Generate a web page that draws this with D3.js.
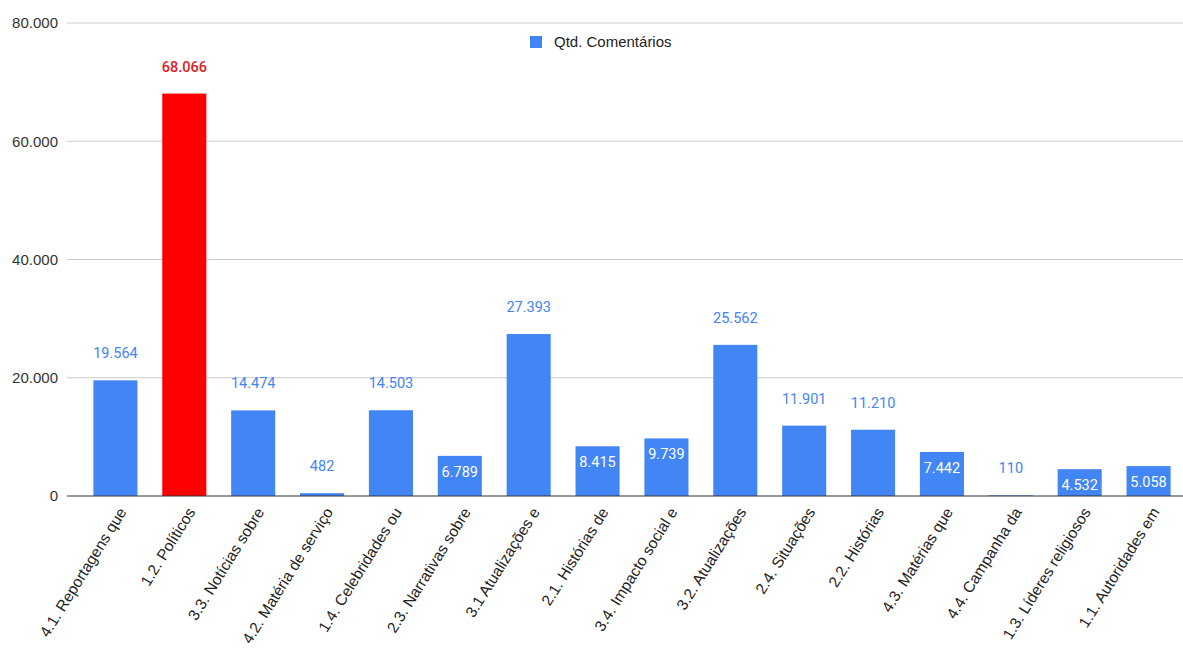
<!DOCTYPE html>
<html>
<head>
<meta charset="utf-8">
<script src="https://cdn.jsdelivr.net/npm/d3@7"></script>
<style>
  body { margin: 0; background: #fff; }
  svg { display: block; }
</style>
</head>
<body>
<div id="chart"></div>
<script>
// chart data
const categories = [
  '4.1. Reportagens que', '1.2. Políticos', '3.3. Notícias sobre', '4.2. Matéria de serviço',
  '1.4. Celebridades ou', '2.3. Narrativas sobre', '3.1 Atualizações e', '2.1. Histórias de',
  '3.4. Impacto social e', '3.2. Atualizações', '2.4. Situações', '2.2. Histórias',
  '4.3. Matérias que', '4.4. Campanha da', '1.3. Líderes religiosos', '1.1. Autoridades em'
];
const comentarios = [19564, 68066, 14474, 482, 14503, 6789, 27393, 8415, 9739, 25562, 11901, 11210, 7442, 110, 4532, 5058];
const yTicks = [0, 20000, 40000, 60000, 80000];
const seriesName = 'Qtd. Comentários';

const width = 1183, height = 666;
const margin = {top: 23, right: 0, bottom: 170, left: 67};
const blue = '#4285f4', red = '#ff0000';

const svg = d3.select('#chart')
              .append('svg')
              .attr('width', width)
              .attr('height', height);

const fmt = d3.formatLocale({decimal: ',', thousands: '.', grouping: [3], currency: ['', '']}).format(',');

const y = d3.scaleLinear()
            .domain([0, 80000])
            .range([height - margin.bottom, margin.top]);

const x = d3.scaleBand()
            .domain(categories)
            .range([81, width])
            .paddingInner(0.36)
            .paddingOuter(0.18);

// gridlines
svg.append('g')
   .selectAll('line')
   .data(yTicks.slice(1))
   .enter().append('line')
   .attr('x1', margin.left)
   .attr('x2', width)
   .attr('y1', d => y(d))
   .attr('y2', d => y(d))
   .attr('stroke', '#cccccc')
   .attr('stroke-width', 1);

// y tick labels
svg.append('g')
   .selectAll('text')
   .data(yTicks)
   .enter().append('text')
   .attr('x', margin.left - 9)
   .attr('y', d => y(d))
   .attr('dy', '0.35em')
   .attr('text-anchor', 'end')
   .attr('font-family', 'Liberation Sans, Arial, sans-serif')
   .attr('font-size', 15)
   .attr('fill', '#333')
   .text(d => fmt(d));

// bars
const maxV = d3.max(comentarios);
svg.append('g')
   .selectAll('rect')
   .data(comentarios)
   .enter().append('rect')
   .attr('x', (d, i) => x(categories[i]))
   .attr('y', d => y(d))
   .attr('width', x.bandwidth())
   .attr('height', d => y(0) - y(d))
   .attr('fill', d => d === maxV ? red : blue);

// baseline
svg.append('line')
   .attr('x1', margin.left)
   .attr('x2', width)
   .attr('y1', y(0))
   .attr('y2', y(0))
   .attr('stroke', '#333')
   .attr('stroke-width', 1.2);

// value labels: inside the bar for mid-size values, above otherwise
const isInside = d => d < 11000 && (y(0) - y(d)) > 20;
svg.append('g')
   .selectAll('text')
   .data(comentarios)
   .enter().append('text')
   .attr('x', (d, i) => x(categories[i]) + x.bandwidth() / 2)
   .attr('y', d => isInside(d) ? y(d) + 21 : y(d) - 22)
   .attr('text-anchor', 'middle')
   .attr('font-family', 'Roboto, sans-serif')
   .attr('font-size', 14.5)
   .attr('font-weight', d => d === maxV ? 500 : 400)
   .attr('fill', d => isInside(d) ? '#fff' : (d === maxV ? '#e0201e' : blue))
   .text(d => fmt(d));

// category labels
svg.append('g')
   .selectAll('text')
   .data(categories)
   .enter().append('text')
   .attr('transform', d => `translate(${x(d) + x.bandwidth() / 2 + 7},${y(0) + 13}) rotate(-58)`)
   .attr('text-anchor', 'end')
   .attr('dy', '0.35em')
   .attr('font-family', 'Liberation Sans, Arial, sans-serif')
   .attr('font-size', 15.5)
   .attr('fill', '#222')
   .text(d => d);

// legend
const legend = svg.append('g').attr('transform', 'translate(530,36)');
legend.append('rect')
      .attr('width', 12)
      .attr('height', 12)
      .attr('fill', blue);
legend.append('text')
      .attr('x', 24)
      .attr('y', 6)
      .attr('dy', '0.35em')
      .attr('font-family', 'Liberation Sans, Arial, sans-serif')
      .attr('font-size', 15)
      .attr('fill', '#222')
      .text(seriesName);
</script>
</body>
</html>
